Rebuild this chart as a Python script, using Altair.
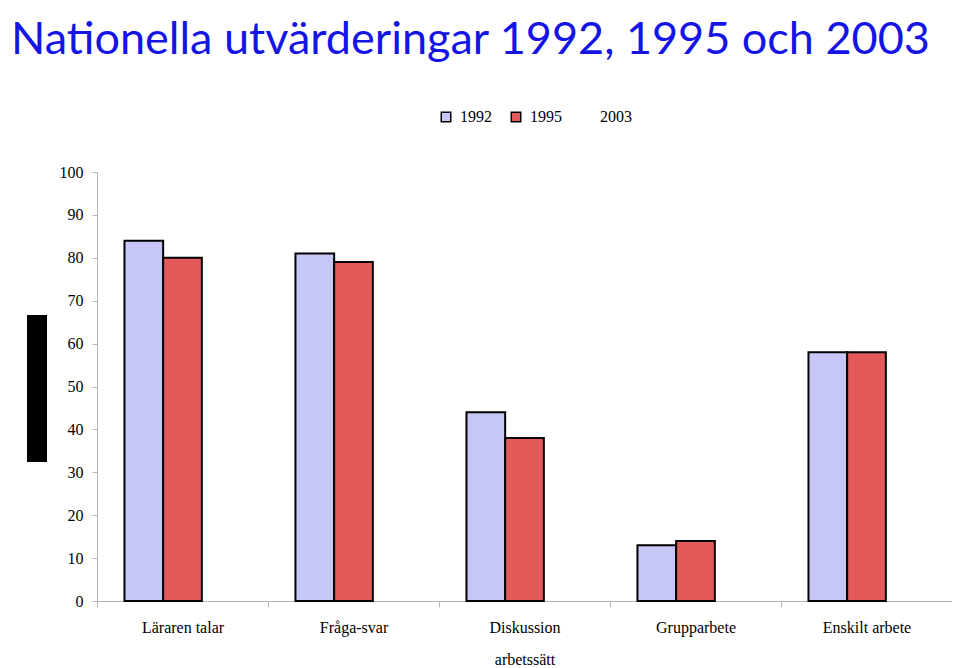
import altair as alt
import pandas as pd

title_text = "Nationella utvärderingar 1992, 1995 och 2003"
categories = ["Läraren talar", "Fråga-svar", "Diskussion\narbetssätt", "Grupparbete", "Enskilt arbete"]
years = ["1992", "1995", "2003"]
values_1992 = [84, 81, 44, 13, 58]
values_1995 = [80, 79, 38, 14, 58]
values_2003 = [None, None, None, None, None]
y_ticks = [0, 10, 20, 30, 40, 50, 60, 70, 80, 90, 100]

rows = []
for yr, vals in zip(years, [values_1992, values_1995, values_2003]):
    for c, v in zip(categories, vals):
        rows.append({"kategori": c, "år": yr, "värde": v})
df = pd.DataFrame(rows)

fill_colors = ["#c6c6f7", "#e25a5a", "transparent"]
stroke_colors = ["#000000", "#000000", "transparent"]

SERIF = "Liberation Serif"
PLOT_W = 855
PLOT_H = 429
TOTAL_H = 660

legend = alt.Legend(
    orient="none", legendX=341, legendY=-63, direction="horizontal", title=None,
    symbolType="square", symbolSize=90, symbolStrokeWidth=1.5,
    labelFont=SERIF, labelFontSize=16, labelColor="#000000",
    labelOffset=6, columnPadding=16,
)

bars = alt.Chart(df).mark_bar(strokeWidth=2).encode(
    x=alt.X("kategori:N", sort=categories,
            scale=alt.Scale(paddingInner=0, paddingOuter=0),
            axis=alt.Axis(title=None, labelAngle=0, labelFont=SERIF,
                          labelFontSize=16, labelColor="#000000",
                          labelExpr="split(datum.label, '\\n')", labelLineHeight=32,
                          labelPadding=12, tickSize=6, tickBand="extent",
                          domainColor="#b5b5b5", tickColor="#b5b5b5", grid=False)),
    xOffset=alt.XOffset("år:N", scale=alt.Scale(domain=years, paddingInner=0, paddingOuter=0.71)),
    y=alt.Y("värde:Q", scale=alt.Scale(domain=[0, 100], nice=False),
            axis=alt.Axis(title=None, values=y_ticks, labelFont=SERIF,
                          labelFontSize=16, labelColor="#000000", labelPadding=9,
                          tickSize=5, domainColor="#b5b5b5", tickColor="#b5b5b5",
                          grid=False)),
    fill=alt.Fill("år:N", scale=alt.Scale(domain=years, range=fill_colors), legend=legend),
    stroke=alt.Stroke("år:N", scale=alt.Scale(domain=years, range=stroke_colors), legend=legend),
)

one = pd.DataFrame({"a": [0]})

box = alt.Chart(one).mark_rect(color="#000000").encode(
    x=alt.value(-70), x2=alt.value(-50), y=alt.value(143), y2=alt.value(290)
)

title = alt.Chart(one).mark_text(
    font="Lato", fontSize=45, color="#1414e6", align="left", baseline="alphabetic"
).encode(x=alt.value(-86), y=alt.value(-118), text=alt.value(title_text))

chart = alt.layer(bars, box, title).properties(
    width=PLOT_W, height=PLOT_H,
    autosize=alt.AutoSizeParams(type="none"),
    padding={"left": 89, "top": 164, "right": 0, "bottom": TOTAL_H - 164 - PLOT_H},
).configure_view(stroke=None)

chart.save("out.html", embed_options={"renderer": "svg", "actions": False})
